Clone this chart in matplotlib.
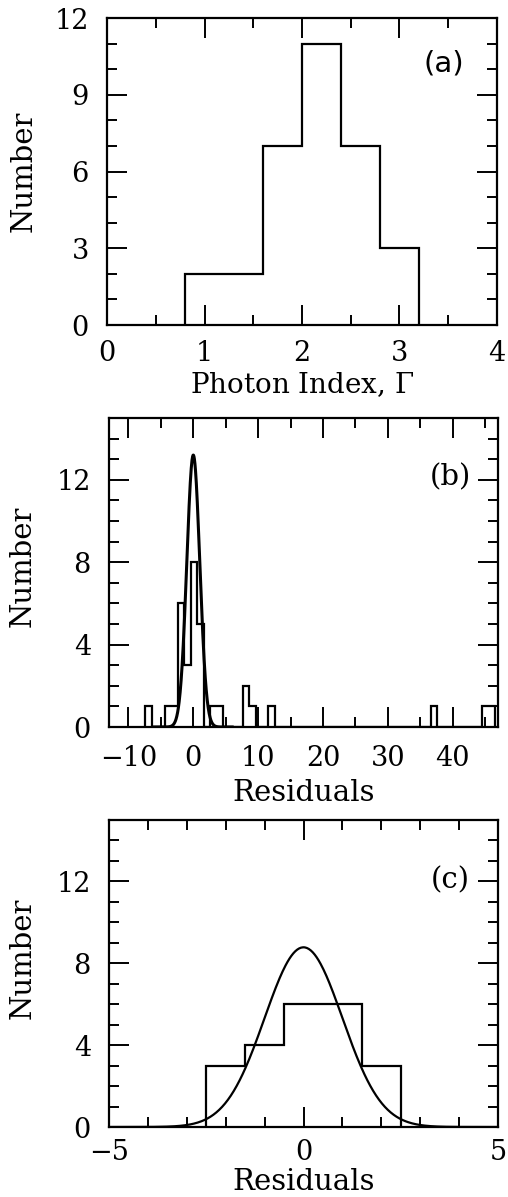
import numpy as np
import matplotlib
matplotlib.use("Agg")
import matplotlib.pyplot as plt
from matplotlib.ticker import MultipleLocator

# --- data ---
# (a) photon index histogram
gamma_edges = [0.8, 1.2, 1.6, 2.0, 2.4, 2.8, 3.2]
gamma_counts = [2, 2, 7, 11, 7, 3]

# (b) residuals histogram, bin width 1 (left edges of non-empty bins)
resb_left = [-7.4, -4.4, -3.4, -2.4, -1.4, -0.4, 0.6, 2.6, 3.6, 7.6, 8.6, 11.6, 36.6, 44.6, 45.6]
resb_counts = [1, 1, 1, 6, 3, 8, 5, 1, 1, 2, 1, 1, 1, 1, 1]
resb_first, resb_last = -7.4, 46.6
gauss_b_amp, gauss_b_mu, gauss_b_sig = 13.2, 0.0, 1.0

# (c) residuals histogram after clipping
resc_edges = [-2.5, -1.5, -0.5, 0.5, 1.5, 2.5]
resc_counts = [3, 4, 6, 6, 3]
gauss_c_amp, gauss_c_mu, gauss_c_sig = 8.78, 0.0, 1.0

plt.rcParams['font.family'] = ['DejaVu Serif']
plt.rcParams['mathtext.fontset'] = 'dejavuserif'

fig = plt.figure(figsize=(5.08, 11.97), dpi=100)

W, H = 508.0, 1197.0
def box(l, r, t, b):
    return [l / W, 1 - b / H, (r - l) / W, (b - t) / H]

ax1 = fig.add_axes(box(107, 497, 18, 325))
ax2 = fig.add_axes(box(109, 498, 418, 727))
ax3 = fig.add_axes(box(109, 498, 820, 1127))

lw = 1.6
tick_fs = 19.5
label_fs = 21

def style(ax, xpad=13):
    for s in ax.spines.values():
        s.set_linewidth(lw)
    ax.tick_params(which='both', direction='in', top=True, right=True,
                   width=1.4, labelsize=tick_fs)
    ax.tick_params(which='major', length=14.4)
    ax.tick_params(which='minor', length=7.2)
    ax.tick_params(axis='x', pad=xpad)
    ax.tick_params(axis='y', pad=13)

def labels(ax, xlab, xpos, ypos, xfs=label_fs):
    ax.set_xlabel(xlab, fontsize=xfs)
    ax.xaxis.set_label_coords(0.5, xpos)
    ax.xaxis.label.set_va('center')
    ax.set_ylabel('Number', fontsize=label_fs)
    ax.yaxis.set_label_coords(ypos[0], ypos[1])
    ax.yaxis.label.set_va('center')

# panel (a)
ax1.stairs(gamma_counts, gamma_edges, color='black', linewidth=lw, baseline=0)
ax1.set_xlim(0, 4)
ax1.set_ylim(0, 12)
ax1.xaxis.set_major_locator(MultipleLocator(1))
ax1.xaxis.set_minor_locator(MultipleLocator(0.5))
ax1.yaxis.set_major_locator(MultipleLocator(3))
ax1.yaxis.set_minor_locator(MultipleLocator(1))
style(ax1, xpad=11)
labels(ax1, 'Photon Index, $\\Gamma$', -0.195, (-0.215, 0.5), xfs=20)
ax1.text(0.864, 0.853, '(a)', transform=ax1.transAxes, fontsize=21,
         family='DejaVu Sans', ha='center', va='center')

# panel (b)
edges_b = np.arange(resb_first, resb_last + 0.5, 1.0)
counts_b = np.zeros(len(edges_b) - 1)
for left, c in zip(resb_left, resb_counts):
    counts_b[int(round(left - resb_first))] = c
ax2.stairs(counts_b, edges_b, color='black', linewidth=lw, baseline=0)
xb = np.linspace(-6, 6, 400)
ax2.plot(xb, gauss_b_amp * np.exp(-0.5 * ((xb - gauss_b_mu) / gauss_b_sig) ** 2),
         color='black', linewidth=2.2)
ax2.set_xlim(-13, 47)
ax2.set_ylim(0, 15)
ax2.xaxis.set_major_locator(MultipleLocator(10))
ax2.xaxis.set_minor_locator(MultipleLocator(5))
ax2.yaxis.set_major_locator(MultipleLocator(4))
ax2.yaxis.set_minor_locator(MultipleLocator(1))
style(ax2)
labels(ax2, 'Residuals', -0.215, (-0.221, 0.52))
ax2.text(0.877, 0.809, '(b)', transform=ax2.transAxes, fontsize=21,
         ha='center', va='center')

# panel (c)
ax3.stairs(resc_counts, resc_edges, color='black', linewidth=lw, baseline=0)
xc = np.linspace(-5, 5, 400)
ax3.plot(xc, gauss_c_amp * np.exp(-0.5 * ((xc - gauss_c_mu) / gauss_c_sig) ** 2),
         color='black', linewidth=1.6)
ax3.set_xlim(-5, 5)
ax3.set_ylim(0, 15)
ax3.xaxis.set_major_locator(MultipleLocator(5))
ax3.xaxis.set_minor_locator(MultipleLocator(1))
ax3.yaxis.set_major_locator(MultipleLocator(4))
ax3.yaxis.set_minor_locator(MultipleLocator(1))
style(ax3, xpad=9)
labels(ax3, 'Residuals', -0.18, (-0.221, 0.55))
ax3.text(0.877, 0.805, '(c)', transform=ax3.transAxes, fontsize=21,
         ha='center', va='center')

fig.savefig('out.png', dpi=100)
